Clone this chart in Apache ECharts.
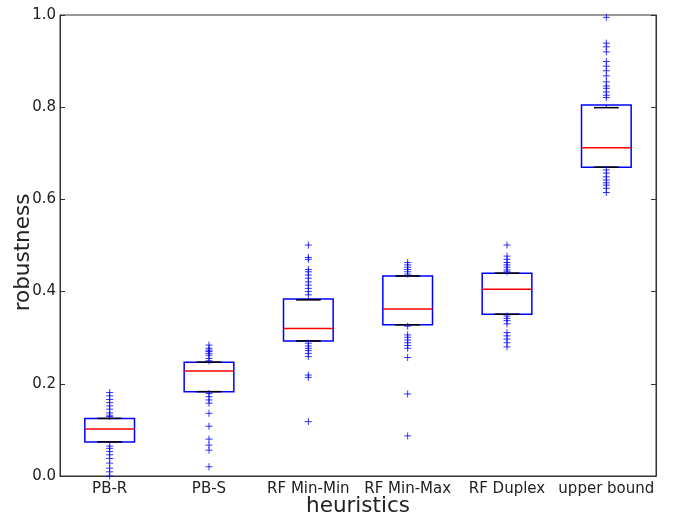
<!DOCTYPE html>
<html>
    <head>
        <meta charset="utf-8">
        <title>robustness</title>
        <script src="https://cdn.jsdelivr.net/npm/echarts@6/dist/echarts.min.js"></script>
        <style>body{margin:0;background:#fff;}</style>
    </head>
    <body>
        <div id="main" style="width:673px;height:522px;"></div>
        <script type="text/javascript">
            var categories = ['PB-R', 'PB-S', 'RF Min-Min', 'RF Min-Max', 'RF Duplex', 'upper bound'];
            // box statistics per heuristic
            var whiskerLow  = [0.074, 0.183, 0.293, 0.328, 0.351, 0.670];
            var q1          = [0.074, 0.183, 0.293, 0.328, 0.351, 0.670];
            var median      = [0.102, 0.228, 0.320, 0.362, 0.405, 0.712];
            var q3          = [0.125, 0.247, 0.384, 0.434, 0.440, 0.805];
            var whiskerHigh = [0.125, 0.247, 0.382, 0.434, 0.440, 0.799];
            // outliers per heuristic
            var fliersPBR = [0.181, 0.174, 0.166, 0.159, 0.152, 0.145, 0.137, 0.132, 0.129,
                0.065, 0.060, 0.053, 0.046, 0.038, 0.028, 0.017, 0.009, 0.0];
            var fliersPBS = [0.284, 0.277, 0.273, 0.270, 0.266, 0.262, 0.255, 0.250,
                0.179, 0.172, 0.165, 0.158, 0.136, 0.108, 0.080, 0.067, 0.056, 0.020];
            var fliersMinMin = [0.501, 0.474, 0.470, 0.448, 0.443, 0.436, 0.429, 0.421, 0.414, 0.407, 0.400, 0.393,
                0.288, 0.282, 0.277, 0.272, 0.266, 0.259, 0.219, 0.214, 0.118];
            var fliersMinMax = [0.463, 0.458, 0.453, 0.448, 0.443, 0.438,
                0.325, 0.306, 0.301, 0.295, 0.289, 0.283, 0.277, 0.257, 0.178, 0.087];
            var fliersDuplex = [0.501, 0.477, 0.470, 0.463, 0.458, 0.453, 0.447, 0.443,
                0.347, 0.342, 0.337, 0.330, 0.311, 0.304, 0.297, 0.289, 0.280];
            var fliersUpper = [0.995, 0.939, 0.931, 0.920, 0.899, 0.889, 0.879, 0.868, 0.855, 0.846, 0.841, 0.833, 0.826, 0.821,
                0.664, 0.657, 0.649, 0.642, 0.636, 0.631, 0.624, 0.615];
            var yTicks = [0, 0.2, 0.4, 0.6, 0.8, 1.0];

            var allFliers = [fliersPBR, fliersPBS, fliersMinMin, fliersMinMax, fliersDuplex, fliersUpper];
            var flierData = [];
            allFliers.forEach(function (arr, i) {
                arr.forEach(function (v) { flierData.push([i, v]); });
            });
            var boxData = categories.map(function (c, i) {
                return [i, whiskerLow[i], q1[i], median[i], q3[i], whiskerHigh[i]];
            });

            var font = 'DejaVu Sans';
            var textColor = '#222';
            var myChart = echarts.init(document.getElementById('main'));

            function renderBox(params, api) {
                var x = api.value(0);
                var band = api.size([1, 0])[0];
                var half = band * 0.25;
                var pLow = api.coord([x, api.value(1)]);
                var pQ1 = api.coord([x, api.value(2)]);
                var pMed = api.coord([x, api.value(3)]);
                var pQ3 = api.coord([x, api.value(4)]);
                var pHigh = api.coord([x, api.value(5)]);
                var cx = pMed[0];
                var capHalf = half / 2;
                return {
                    type: 'group',
                    children: [
                        {type: 'line', shape: {x1: cx, y1: pQ3[1], x2: cx, y2: pHigh[1]},
                            style: {stroke: '#0000ff', lineWidth: 1, lineDash: [4, 3]}},
                        {type: 'line', shape: {x1: cx, y1: pQ1[1], x2: cx, y2: pLow[1]},
                            style: {stroke: '#0000ff', lineWidth: 1, lineDash: [4, 3]}},
                        {type: 'rect', shape: {x: cx - half, y: pQ3[1], width: half * 2, height: pQ1[1] - pQ3[1]},
                            style: {fill: 'none', stroke: '#0000ff', lineWidth: 1.5}},
                        {type: 'line', shape: {x1: cx - half, y1: pMed[1], x2: cx + half, y2: pMed[1]},
                            style: {stroke: '#ff0000', lineWidth: 1.5}},
                        {type: 'line', shape: {x1: cx - capHalf, y1: pHigh[1], x2: cx + capHalf, y2: pHigh[1]},
                            style: {stroke: '#000', lineWidth: 1.5}},
                        {type: 'line', shape: {x1: cx - capHalf, y1: pLow[1], x2: cx + capHalf, y2: pLow[1]},
                            style: {stroke: '#000', lineWidth: 1.5}}
                    ]
                };
            }

            var option = {
                animation: false,
                grid: {left: 60, right: 17, top: 15, bottom: 46, show: true, borderColor: '#333', borderWidth: 1,
                    outerBoundsMode: 'none', containLabel: false},
                xAxis: [{
                    type: 'category',
                    data: categories,
                    position: 'bottom',
                    axisLine: {lineStyle: {color: '#333'}},
                    axisTick: {inside: true, alignWithLabel: true, length: 5, lineStyle: {color: '#333'}},
                    axisLabel: {interval: 0, fontSize: 15, color: textColor, fontFamily: font, margin: 6},
                    name: 'heuristics',
                    nameLocation: 'middle',
                    nameGap: 19,
                    nameMoveOverlap: false,
                    nameTextStyle: {fontSize: 21.5, color: textColor, fontFamily: font}
                }, {
                    type: 'category',
                    data: categories,
                    position: 'top',
                    axisLine: {lineStyle: {color: '#333'}},
                    axisTick: {inside: true, alignWithLabel: true, length: 5, lineStyle: {color: '#333'}},
                    axisLabel: {show: false}
                }],
                yAxis: [{
                    type: 'value',
                    min: yTicks[0],
                    max: yTicks[yTicks.length - 1],
                    interval: 0.2,
                    splitLine: {show: false},
                    axisLine: {show: true, lineStyle: {color: '#333'}},
                    axisTick: {show: true, inside: true, length: 5, lineStyle: {color: '#333'}},
                    axisLabel: {fontSize: 15, color: textColor, fontFamily: font, margin: 4,
                        formatter: function (v) { return v.toFixed(1); }},
                    name: 'robustness',
                    nameLocation: 'middle',
                    nameGap: 26,
                    nameMoveOverlap: false,
                    nameTextStyle: {fontSize: 21.5, color: textColor, fontFamily: font, padding: [0, 14, 0, 0]}
                }, {
                    type: 'value',
                    position: 'right',
                    min: yTicks[0],
                    max: yTicks[yTicks.length - 1],
                    interval: 0.2,
                    splitLine: {show: false},
                    axisLine: {show: true, lineStyle: {color: '#333'}},
                    axisTick: {show: true, inside: true, length: 5, lineStyle: {color: '#333'}},
                    axisLabel: {show: false}
                }],
                series: [{
                    type: 'custom',
                    renderItem: renderBox,
                    data: boxData,
                    z: 2
                }, {
                    type: 'scatter',
                    data: flierData,
                    symbol: 'path://M0,4H8M4,0V8',
                    symbolSize: 7,
                    itemStyle: {color: 'none', borderColor: '#0000ff', borderWidth: 1, opacity: 0.8},
                    z: 3
                }]
            };
            myChart.setOption(option);
        </script>
    </body>
</html>
